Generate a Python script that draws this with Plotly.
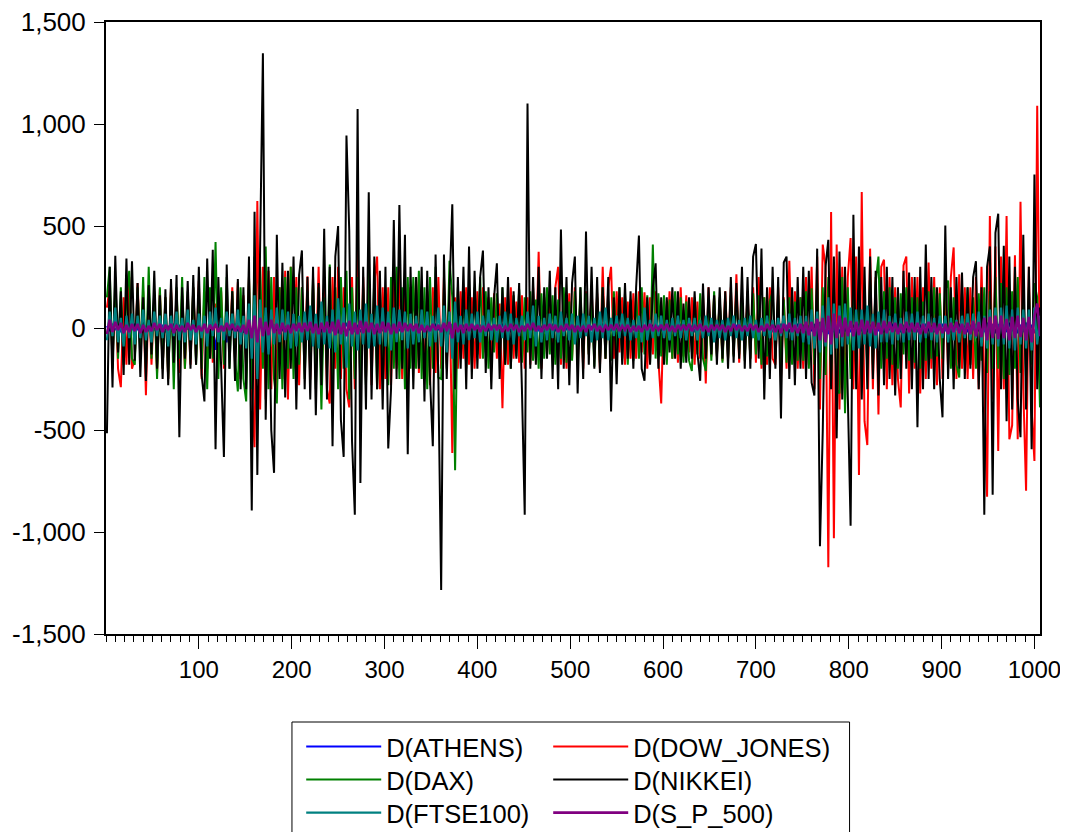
import plotly.graph_objects as go

# observation index of every plotted value (every third observation)
obs = list(range(1, 1007, 3))

athens = [
    10, -15, 20, -10, 15, -20, 10, -5, 15, -10,
    20, -10, 15, -20, 10, -15, 20, -10, 5, -15,
    15, -20, 10, -15, 20, -10, 15, -20, 10, -5,
    -10, 15, -20, 10, -15, 20, -10, -60, 15, -107,
    20, -15, 10, -70, 15, -10, 20, -15, 10, -20,
    -20, 15, -30, 25, -40, 20, -15, 30, -25, 10,
    15, -10, 20, -15, 10, -20, 15, -10, 20, -15,
    10, -20, 15, -10, 20, -15, 10, -20, 15, -10,
    20, -15, 10, -25, 15, -20, 25, -10, 15, -20,
    15, -20, 10, -15, 20, -10, 15, -20, 10, -15,
    20, -10, 15, -20, 10, -15, 20, -10, 15, -20,
    10, -15, 20, -10, 15, -20, 10, -15, 20, -10,
    15, -20, 10, -30, 20, -15, 10, -20, 15, -10,
    20, -15, 10, -20, 15, -10, 20, -15, 10, -20,
    15, -10, 20, -15, 10, -20, 15, -10, 20, -15,
    10, -20, 15, -10, 20, -15, 10, -20, 15, -10,
    20, -15, 10, -20, 15, -10, 20, -15, 10, -20,
    15, -10, 20, -15, 10, -20, 15, -10, 20, -15,
    10, -15, 20, -10, 15, -20, 10, -15, 20, -10,
    15, -20, 10, -15, 20, -10, 15, -20, 10, -15,
    20, -10, 15, -20, 10, -15, 20, -10, 15, -20,
    10, -20, 15, -10, 20, -15, 10, -20, 15, -10,
    15, -10, 20, -15, 10, -20, 15, -10, 20, -15,
    20, -15, 10, -20, 15, -10, 20, -15, 10, -20,
    10, -15, 20, -10, 15, -20, 10, -15, 20, -10,
    15, -20, 10, -15, 20, -25, 30, -20, 25, -30,
    25, -20, 15, -25, 20, -15, 10, -20, 15, -10,
    20, -15, 10, -20, 15, -10, 20, -15, 10, -20,
    15, -10, 20, -15, 10, -20, 15, -10, 20, -15,
    10, -20, 15, -10, 20, -15, 10, -20, 15, -10,
    20, -15, 10, -20, 15, -10, 20, -15, 10, -20,
    15, -10, 20, -15, 10, -20, 25, -15, 20, -25,
    20, -25, 15, -20, 25, -15, 20, -25, 15, -20,
    25, -20, 15, -25, 20, -10,
]

dow_jones = [
    100, 200, -150, 180, -200, -290, 150, -180, 250, -200,
    -150, 220, -120, 180, -330, 200, -180, 160, -220, 190,
    -200, 150, -250, 200, -150, 180, -220, 160, -200, 150,
    -180, 200, -150, 230, -250, 180, -200, 150, -170, 120,
    -150, 180, -200, 150, -130, 200, -170, 224, -250, 160,
    -200, 250, -300, -584, 623, -400, 300, -350, 280, -300,
    250, -300, 200, -250, 280, -350, 300, -200, 250, -280,
    200, -180, 253, -253, 220, -200, 300, -250, 200, -300,
    -370, 250, -200, 300, -250, 200, -300, -389, 250, -300,
    400, -300, 250, -250, 200, -280, 220, 350, -300, 200,
    -250, 200, -280, 250, -200, 300, -250, 220, -300, 200,
    -200, 250, -220, 200, -250, 180, -280, 200, -220, 250,
    -200, 250, -180, 200, -613, 150, -200, 180, -150, 200,
    -180, 150, -200, 180, -150, 200, -120, 150, -200, 170,
    -150, 120, -393, 150, -180, 200, -150, 130, -170, 160,
    -200, 150, -180, 200, -150, 374, -200, 150, -130, 180,
    -150, 200, 300, -180, 150, -200, 170, -150, 200, -180,
    150, -200, 180, -130, 200, -150, 170, -200, 300, -150,
    200, 300, -150, 180, -120, 150, -180, 130, -150, 170,
    -150, 180, -120, 175, -200, 150, -130, 180, -160, -370,
    150, -120, 180, -150, 130, -170, 200, -140, 160, -120,
    150, -180, 130, -150, 170, -272, 200, -140, 160, -130,
    140, -160, 180, -150, 200, -130, 263, -170, 150, -140,
    180, -150, 200, -170, 250, -200, 150, -180, 200, -150,
    -180, 200, -250, 150, -200, 330, -150, 180, -200, 150,
    -200, 250, -180, 300, -300, 350, -400, 409, 300, -1173,
    568, -1031, 409, -400, 300, -350, 250, 441, -300, 350,
    -720, 667, -457, -574, 389, -300, 250, -424, 300, 335,
    -300, 250, -280, 200, -250, -389, 307, 350, -321, 250,
    -200, 250, -321, 200, -250, 321, -200, 250, -280, 200,
    -250, 200, -200, 250, 395, -250, 263, -200, 200, -250,
    200, -250, 250, -300, 300, -350, -827, 549, -350, 400,
    -603, 350, -300, 549, -545, -477, 356, -545, 619, -300,
    -798, 300, -400, -652, 1090, -300,
]

dax = [
    150, 300, -200, 250, -150, 200, -180, 150, 280, -150,
    -180, 200, -150, 250, -200, 300, -150, 180, -250, 200,
    -200, 150, -250, 180, -300, 200, -150, 250, -200, 180,
    -150, 200, -180, 150, -200, 250, -300, 200, -150, 422,
    -250, 200, -180, 250, -200, 180, -150, -311, 200, -250,
    -360, 250, -300, 350, -250, 300, -200, 400, -300, 250,
    -250, -370, 200, -300, 250, -200, 300, -250, 200, -180,
    200, -250, 180, -200, 250, -300, 200, -400, 150, -200,
    311, -250, 200, -300, 250, -200, 280, -350, 200, -250,
    250, -300, 200, -280, 300, -200, 250, -300, 200, -250,
    200, -280, 250, -200, 300, -250, 200, -300, 250, -200,
    250, -200, 280, -250, 200, -300, 250, -200, 300, -243,
    -250, 200, -200, 330, 150, -697, 200, -150, 180, -200,
    150, -180, 200, -130, 250, -150, 180, -200, 150, -120,
    170, -150, 200, -180, 130, -200, 160, -140, 190, -170,
    150, -120, 180, -160, 140, -200, 170, -150, 200, -130,
    160, -180, 140, -150, 200, -170, 130, -160, 180, -140,
    200, -150, 170, -130, 160, -190, 150, -170, 200, -150,
    130, -160, 180, -140, 200, -150, 170, -180, 140, -160,
    180, -150, 200, -130, 160, -170, 409, -150, 170, -140,
    160, -180, 140, -150, 180, -130, 150, -170, 130, -160,
    -211, 150, -130, 170, -150, -211, 140, -160, 180, -140,
    150, -170, 130, -150, 160, -140, 180, -130, 150, -160,
    140, -150, 170, -130, 160, -180, 150, -140, 130, 180,
    -150, 160, -195, 140, -170, 150, -180, 130, -160, 150,
    -160, 180, -200, 195, -180, 220, -250, 200, -230, 250,
    -250, 200, -300, -321, 250, -418, 200, -250, 230, -200,
    200, -250, 180, -200, 250, -180, 220, 350, -200, 180,
    -150, 200, -180, 150, -200, 170, -130, 200, -160, 150,
    -170, 150, -200, 130, -160, 180, -150, 200, -140, 170,
    -150, 180, 233, -200, 150, -180, -243, 170, -150, 200,
    -180, 150, -200, 170, -160, 200, -220, 180, -200, 250,
    -200, 220, -250, 200, -230, 180, -200, 250, -220, 200,
    -250, 200, -180, 220, 150, -389,
]

nikkei = [
    -516, 300, -292, 354, -120, 180, -230, 340, -180, 327,
    -160, 220, -240, 150, -260, 210, -130, 280, -200, 160,
    -250, 190, -280, 240, -170, 260, -535, 200, -150, 230,
    -200, 260, -180, 300, -230, -360, 340, -150, 383, -594,
    250, -220, -632, 311, -200, 180, -260, 240, -300, 200,
    -300, 350, -895, 570, -720, 400, 1347, -450, 300, -500,
    -710, 457, -250, 320, -340, 280, -200, 350, -400, 260,
    380, -300, 250, -350, 300, -428, 220, -280, 486, -350,
    300, -580, 350, 500, -450, -632, 944, 477, -555, -915,
    1074, -760, 300, -400, 665, -350, 350, -300, 280, -400,
    300, -590, -300, 529, -250, 603, -200, 457, -619, 300,
    -300, 250, -200, 300, -360, 280, -250, -580, 360, -250,
    -1284, 360, -250, 200, 607, -300, 250, -200, 300, -300,
    400, -250, 280, -200, 250, 380, -220, 200, -300, 150,
    317, -250, 200, -180, 250, -200, 180, -150, 220, -302,
    -915, 1100, -200, 250, -180, 300, -250, 200, -150, 280,
    -250, 200, -300, 483, -200, 250, -280, 220, 350, -321,
    200, -250, 473, -180, 300, -200, 250, -220, 200, -150,
    250, -409, 150, -276, 200, -180, 220, -150, 180, -200,
    200, 453, -200, -259, 150, -180, 200, 317, -200, 150,
    -180, 150, -120, 200, -150, 180, -200, 120, -170, 150,
    -150, 180, -120, -259, 218, -150, 200, -130, 160, -180,
    200, -150, 180, -200, 250, -170, 220, -150, 300, -200,
    250, -200, 350, 412, -150, 389, -350, 200, -250, 300,
    -200, 250, -444, 321, 350, -250, 200, -280, 250, -200,
    300, -250, 280, -268, -331, 389, -1070, -506, 300, 432,
    -300, 350, -541, 375, -350, 300, -400, -969, 555, -300,
    400, -350, 300, -300, 350, -250, 280, -331, 250, -280,
    300, -250, 250, -331, 200, -250, 280, -200, 272, -300,
    250, -487, 300, -300, 409, -250, 250, -300, 200, -250,
    -438, 502, -250, 200, -300, 250, -200, 272, -250, 200,
    -200, 250, 327, -300, 200, -915, 300, 400, -817, 467,
    560, -300, 403, -457, 350, -400, 300, -350, -535, 457,
    -400, 300, -594, 753, -300, 100,
]

ftse100 = [
    -60, 80, -40, 100, -70, 50, -90, 60, -50, 70,
    -80, 60, -50, 90, -60, 40, -70, 80, -40, 60,
    -50, 70, -90, 60, -40, 80, -60, 50, -70, 90,
    -60, 40, -80, 70, -50, 60, -90, 80, -40, 100,
    -70, 50, -60, 80, -40, 70, -50, 90, -80, 60,
    -100, 120, -150, 160, -250, 140, -120, 100, -130, 90,
    -80, 100, -70, 90, -60, 80, -100, 70, -90, 60,
    -70, 80, -60, 110, -90, 70, -100, 130, -80, 60,
    -100, 90, -120, 146, -80, 100, -195, 120, -90, 80,
    -110, 90, -80, 120, -100, 70, -90, 110, -80, 100,
    -90, 80, -110, 100, -70, 90, -60, 80, -100, 70,
    -80, 60, -70, 90, -50, 80, -90, 60, -70, 100,
    -90, 110, -120, 80, -150, 130, -70, 60, -80, 90,
    -60, 70, -50, 80, -70, 60, -40, 90, -60, 50,
    -70, 60, -50, 80, -60, 70, -80, 50, -40, 60,
    -60, 80, -50, 110, -90, 60, -70, 50, -60, 70,
    -50, 60, -70, 80, -40, 50, -60, 70, -80, 60,
    -50, 70, -40, 60, -70, 50, -60, 80, -50, 100,
    -60, 50, -40, 60, -50, 70, -40, 50, -60, 40,
    -50, 60, -70, 100, -60, 40, -50, 70, -40, 60,
    -50, 40, -60, 50, -40, 60, -50, 40, -60, 50,
    -40, 50, -60, 40, -50, 60, -40, 50, -70, 40,
    -50, 40, -60, 50, -40, 60, -50, 40, -60, 50,
    -40, 60, -50, 40, -60, 50, -40, 60, -50, 40,
    -60, 50, -40, 60, -50, 70, -60, 50, -40, 60,
    -70, 60, -80, 90, -100, 80, -120, 110, -90, 150,
    -130, 120, -100, 110, -90, 120, -80, 100, -110, 90,
    -100, 90, -80, 110, -90, 70, -100, 80, -70, 90,
    -70, 60, -80, 70, -60, 50, -70, 80, -60, 70,
    -60, 80, -70, 60, -50, 70, -60, 50, -70, 60,
    -50, 60, -70, 50, -60, 40, -70, 60, -50, 70,
    -60, 70, -50, 80, -90, 60, -100, 90, -80, 100,
    -90, 100, -80, 110, -100, 90, -110, 100, -80, 90,
    -100, 90, -110, 100, -80, 60,
]

s_p_500 = [
    -30, 40, -20, 30, -10, 25, -25, 15, -20, 20,
    -15, 20, -25, 15, -20, 10, -15, 25, -10, 20,
    -20, 15, -10, 20, -25, 15, -15, 10, -20, 25,
    -10, 15, -20, 10, -15, 20, -25, 15, -10, 20,
    -20, 10, -15, 25, -10, 20, -15, 10, -20, 15,
    -30, 40, -50, 60, -70, 50, -40, 30, -35, 40,
    -25, 20, -30, 25, -20, 15, -25, 20, -15, 25,
    -20, 25, -15, 30, -25, 20, -30, 25, -20, 30,
    -25, 30, -35, 40, -30, 25, -40, 35, -30, 25,
    -30, 35, -25, 30, -20, 25, -30, 20, -25, 30,
    -20, 25, -30, 20, -25, 30, -20, 25, -15, 20,
    -15, 20, -25, 15, -20, 10, -15, 20, -10, 15,
    -20, 25, -15, 30, -50, 25, -20, 15, -25, 20,
    -15, 20, -10, 15, -20, 10, -15, 20, -10, 15,
    -10, 15, -20, 10, -15, 20, -10, 15, -20, 10,
    -15, 20, -10, 25, -15, 10, -20, 15, -10, 20,
    -10, 15, -20, 10, -15, 20, -10, 15, -20, 10,
    -15, 10, -20, 15, -10, 20, -15, 10, -20, 15,
    -10, 15, -10, 20, -15, 10, -10, 15, -20, 10,
    -15, 10, -20, 15, -10, 20, -15, 10, -10, 15,
    -10, 20, -15, 10, -20, 15, -10, 15, -10, 20,
    -15, 10, -10, 20, -15, 10, -20, 15, -10, 15,
    -10, 15, -20, 10, -15, 20, -10, 15, -15, 10,
    -15, 20, -10, 15, -20, 10, -15, 20, -10, 15,
    -20, 15, -25, 20, -15, 25, -20, 15, -25, 20,
    -25, 30, -35, 30, -40, 45, -60, 50, -70, 60,
    -80, 70, -50, 60, -45, 50, -40, 35, -40, 30,
    -35, 40, -30, 35, -25, 30, -35, 25, -30, 35,
    -25, 30, -20, 25, -30, 20, -25, 30, -20, 25,
    -20, 25, -30, 20, -25, 30, -20, 25, -30, 20,
    -25, 20, -30, 25, -20, 30, -25, 20, -30, 25,
    -30, 35, -40, 30, -45, 50, -60, 55, -50, 60,
    -55, 60, -50, 45, -60, 55, -50, 60, -45, 50,
    -60, 55, -70, 60, 120, -40,
]

series_names = ["D(ATHENS)", "D(DOW_JONES)", "D(DAX)", "D(NIKKEI)", "D(FTSE100)", "D(S_P_500)"]
series_values = [athens, dow_jones, dax, nikkei, ftse100, s_p_500]
series_colors = ["#0000FF", "#FF0000", "#008000", "#000000", "#008080", "#800080"]
series_widths = [2.0, 2.0, 2.0, 2.0, 2.2, 2.6]
# one horizontal legend per legend row (two entries each)
series_legend = ["legend", "legend", "legend2", "legend2", "legend3", "legend3"]
# left-column entries get a fixed width so the right column lines up
series_entry_w = [157, 230, 157, 230, 157, 230]

y_tickvals = [-1500, -1000, -500, 0, 500, 1000, 1500]
y_ticktext = ["-1,500", "-1,000", "-500", "0", "500", "1,000", "1,500"]
x_tickvals = [100, 200, 300, 400, 500, 600, 700, 800, 900, 1000]

FONT = "Liberation Sans, Arial, sans-serif"

fig = go.Figure()
for name, vals, col, w, lg, ew in zip(series_names, series_values, series_colors,
                                      series_widths, series_legend, series_entry_w):
    fig.add_trace(go.Scatter(
        x=obs[:len(vals)], y=vals, mode="lines", name=name,
        line=dict(color=col, width=w), legend=lg, legendwidth=ew,
    ))

legend_style = dict(
    x=0.209, xanchor="left", yanchor="middle",
    orientation="h", font=dict(family=FONT, size=25.5, color="black"),
    bgcolor="rgba(0,0,0,0)", borderwidth=0, itemwidth=75,
)

# the page body adds an 8 px offset, so the figure is 8 px smaller on each axis
fig.update_layout(
    width=1060, height=824,
    paper_bgcolor="white", plot_bgcolor="white",
    margin=dict(l=98, r=28, t=14, b=198, autoexpand=False),
    font=dict(family=FONT, size=24, color="black"),
    showlegend=True,
    legend=dict(y=-0.1846, **legend_style),
    legend2=dict(y=-0.2386, **legend_style),
    legend3=dict(y=-0.2925, **legend_style),
    shapes=[dict(
        type="rect", xref="paper", yref="paper",
        x0=0.1991, x1=0.7961, y0=-0.1438, y1=-0.36,
        line=dict(color="black", width=1), fillcolor="rgba(0,0,0,0)",
    )],
)

fig.update_xaxes(
    range=[0, 1006], tickmode="array", tickvals=x_tickvals,
    ticks="outside", ticklen=13, tickwidth=1, tickcolor="black",
    minor=dict(dtick=10, tick0=0, ticks="outside", ticklen=6, tickwidth=1, tickcolor="black"),
    showline=True, linecolor="black", linewidth=2, mirror=True,
    showgrid=False, zeroline=False, automargin=False, ticklabeloverflow="allow",
    tickfont=dict(family=FONT, size=24, color="black"),
)
fig.update_yaxes(
    range=[-1500, 1500], tickmode="array", tickvals=y_tickvals, ticktext=y_ticktext,
    ticks="outside", ticklen=10, tickwidth=1, tickcolor="black",
    showline=True, linecolor="black", linewidth=2, mirror=True,
    showgrid=False, zeroline=False, automargin=False, ticklabelstandoff=3,
    ticklabeloverflow="allow",
    tickfont=dict(family=FONT, size=26, color="black"),
)

fig.write_html("out.html")
